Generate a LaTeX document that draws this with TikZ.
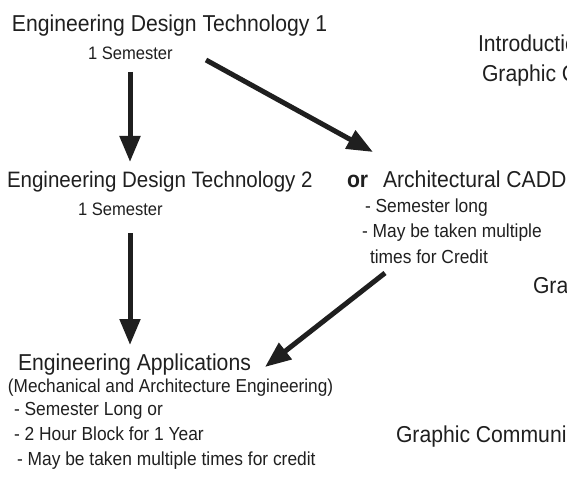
\documentclass[tikz,border=0pt]{standalone}
\usepackage{fontspec}
\setmainfont{Liberation Sans}[FakeStretch=0.92]
\usetikzlibrary{arrows.meta}
\begin{document}
\begin{tikzpicture}[x=1pt,y=-1pt,
  txt/.style={anchor=base west,inner sep=0pt,outer sep=0pt,text=black!88},
  big/.style={txt,font=\fontsize{23}{27}\selectfont},
  mid/.style={txt,font=\fontsize{18}{22}\selectfont},
  lst/.style={txt,font=\fontsize{18.9}{22}\selectfont},
  arr/.style={line width=5pt,draw=black!88,-{Triangle[width=20pt,length=26pt]}}]
\useasboundingbox (0,0) rectangle (567,481);
\clip (0,0) rectangle (567,481);
% left column
\node[big] (edt1) at (12,32) {Engineering Design Technology 1};
\node[mid] (sem1) at (88,60) {1 Semester};
\node[txt,font=\fontsize{22.3}{27}\selectfont] (edt2) at (7,187) {Engineering Design Technology 2};
\node[mid] (sem2) at (78,215) {1 Semester};
\node[txt,font=\fontsize{23}{27}\selectfont\bfseries] (or) at (347,187) {or};
\node[big] (cadd) at (383,187) {Architectural CADD};
\node[lst] (c1) at (365,212) {- Semester long};
\node[lst] (c2) at (362,237) {- May be taken multiple};
\node[lst] (c3) at (370,263) {times for Credit};
\node[big] (ea) at (18,370) {Engineering Applications};
\node[txt,font=\fontsize{18.7}{22}\selectfont] (ea1) at (8,392) {(Mechanical and Architecture Engineering)};
\node[lst] (ea2) at (14,415) {- Semester Long or};
\node[lst] (ea3) at (14,440) {- 2 Hour Block for 1 Year};
\node[lst] (ea4) at (17,465) {- May be taken multiple times for credit};
% right column (cut off at the picture's edge, as in the reference)
\node[big] (intro) at (478,52) {Introduction to};
\node[big] (gc1) at (482,82) {Graphic Communication};
\node[big] (gra) at (533,293) {Graphic Communication};
\node[big] (gc2) at (396,442) {Graphic Communication};
% arrow ends
\coordinate (a1s) at (130,72);
\coordinate (a1e) at (130,162);
\coordinate (a2s) at (206,60);
\coordinate (a2e) at (373,152);
\coordinate (a3s) at (130,233);
\coordinate (a3e) at (130,345);
\coordinate (a4s) at (385,273);
\coordinate (a4e) at (265,367);
\draw[arr] (a1s) -- (a1e);
\draw[arr] (a2s) -- (a2e);
\draw[arr] (a3s) -- (a3e);
\draw[arr] (a4s) -- (a4e);
\end{tikzpicture}
\end{document}
